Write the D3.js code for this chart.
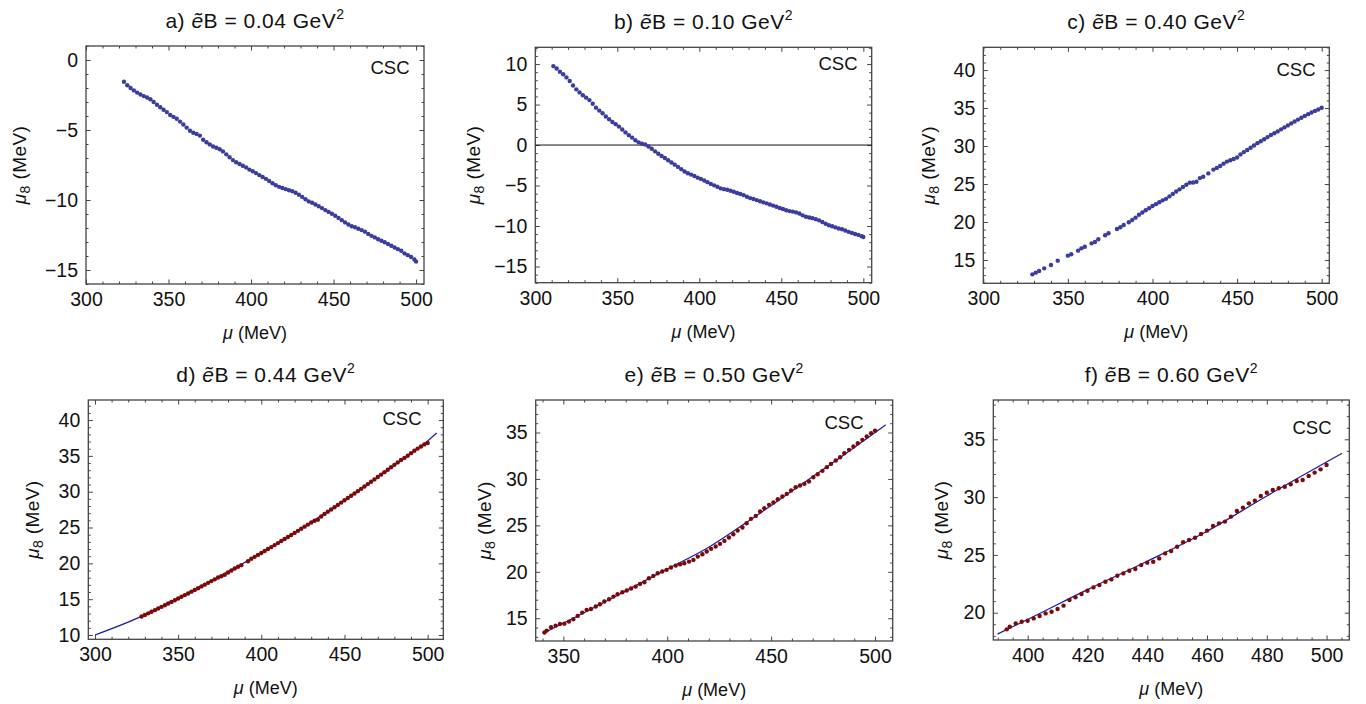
<!DOCTYPE html>
<html>
<head>
<meta charset="utf-8">
<script src="https://cdn.jsdelivr.net/npm/d3@7"></script>
<style>
  body { margin: 0; background: #fff; }
  text { font-family: 'Liberation Sans', Arial, sans-serif; fill: #111; }
</style>
</head>
<body>
<script>
// data: mu (MeV), mu8 (MeV)
const pointsA = [[323,-1.55],[325,-1.80],[327,-2.00],[329,-2.17],[331,-2.33],[333,-2.46],[335,-2.58],[337,-2.68],[339,-2.80],[341,-3.00],
  [343,-3.20],[345,-3.38],[347,-3.55],[349,-3.72],[351,-3.93],[353,-4.06],[355,-4.20],[357,-4.40],[359,-4.61],[361,-4.83],
  [363,-5.05],[365,-5.20],[367,-5.28],[369,-5.40],[371,-5.70],[373,-5.87],[375,-6.03],[377,-6.18],[379,-6.27],[381,-6.37],
  [383,-6.53],[385,-6.74],[387,-6.95],[389,-7.15],[391,-7.30],[393,-7.43],[395,-7.55],[397,-7.67],[399,-7.83],[401,-7.95],
  [403,-8.08],[405,-8.22],[407,-8.36],[409,-8.49],[411,-8.64],[413,-8.80],[415,-8.95],[417,-9.06],[419,-9.14],[421,-9.22],
  [423,-9.30],[425,-9.38],[427,-9.48],[429,-9.62],[431,-9.78],[433,-9.95],[435,-10.10],[437,-10.20],[439,-10.32],[441,-10.45],
  [443,-10.58],[445,-10.72],[447,-10.85],[449,-10.98],[451,-11.12],[453,-11.28],[455,-11.44],[457,-11.60],[459,-11.75],[461,-11.88],
  [463,-11.95],[465,-12.05],[467,-12.15],[469,-12.26],[471,-12.42],[473,-12.56],[475,-12.67],[477,-12.80],[479,-12.91],[481,-13.02],
  [483,-13.14],[485,-13.27],[487,-13.39],[489,-13.51],[491,-13.63],[493,-13.81],[495,-13.94],[497,-14.07],[499,-14.25],[500,-14.40]];

const pointsB = [[311,9.75],[313,9.45],[315,9.05],[317,8.75],[319,8.35],[321,7.90],[323,7.35],[325,6.88],[327,6.50],[329,6.15],
  [331,5.85],[333,5.55],[335,5.10],[337,4.62],[339,4.25],[341,3.92],[343,3.52],[345,3.18],[347,2.85],[349,2.58],
  [351,2.28],[353,1.92],[355,1.56],[357,1.22],[359,0.92],[361,0.60],[363,0.33],[365,0.15],[367,0.06],[369,-0.18],
  [371,-0.45],[373,-0.78],[375,-1.08],[377,-1.35],[379,-1.60],[381,-1.88],[383,-2.15],[385,-2.42],[387,-2.70],[389,-2.98],
  [391,-3.26],[393,-3.48],[395,-3.65],[397,-3.83],[399,-4.03],[401,-4.18],[403,-4.37],[405,-4.58],[407,-4.80],[409,-4.98],
  [411,-5.16],[413,-5.35],[415,-5.45],[417,-5.53],[419,-5.65],[421,-5.77],[423,-5.92],[425,-6.05],[427,-6.18],[429,-6.38],
  [431,-6.55],[433,-6.67],[435,-6.80],[437,-6.95],[439,-7.08],[441,-7.20],[443,-7.35],[445,-7.48],[447,-7.62],[449,-7.78],
  [451,-7.90],[453,-8.05],[455,-8.16],[457,-8.22],[459,-8.32],[461,-8.45],[463,-8.68],[465,-8.85],[467,-8.95],[469,-9.03],
  [471,-9.15],[473,-9.30],[475,-9.50],[477,-9.72],[479,-9.90],[481,-10.03],[483,-10.17],[485,-10.30],[487,-10.40],[489,-10.55],
  [491,-10.72],[493,-10.85],[495,-10.98],[497,-11.10],[499,-11.25],[500,-11.35]];

const pointsC = [[329,13.11],[331,13.33],[333,13.55],[336,13.90],[340,14.34],[344,14.91],[350,15.57],[352,15.75],[356,16.23],[358,16.53],
  [360,16.75],[364,17.19],[366,17.37],[368,17.72],[372,18.25],[374,18.51],[379,19.08],[381,19.30],[383,19.60],[386,19.96],
  [388,20.26],[390,20.57],[392,20.95],[394,21.25],[396,21.55],[398,21.82],[400,22.10],[402,22.35],[404,22.60],[406,22.85],
  [408,23.05],[410,23.38],[412,23.70],[414,24.02],[416,24.30],[418,24.60],[420,24.90],[422,25.18],[424,25.20],[426,25.30],
  [428,25.78],[430,25.95],[433,26.40],[436,26.90],[438,27.12],[440,27.38],[442,27.68],[444,27.95],[446,28.12],[448,28.30],
  [450,28.50],[452,28.90],[454,29.20],[456,29.48],[458,29.78],[460,30.08],[462,30.38],[464,30.64],[466,30.90],[468,31.18],
  [470,31.45],[472,31.68],[474,31.93],[476,32.20],[478,32.46],[480,32.72],[482,32.98],[484,33.24],[486,33.48],[488,33.73],
  [490,33.97],[492,34.20],[494,34.42],[496,34.63],[498,34.82],[500,35.05]];

const pointsD = [[328,12.58],[330,12.80],[332,13.02],[334,13.25],[336,13.47],[338,13.70],[340,13.93],[342,14.15],[344,14.39],[346,14.62],
  [348,14.85],[350,15.09],[352,15.33],[354,15.57],[356,15.80],[358,16.05],[360,16.29],[362,16.53],[364,16.78],[366,17.03],
  [368,17.28],[370,17.52],[372,17.77],[374,18.03],[376,18.20],[378,18.40],[380,18.72],[382,19.00],[384,19.28],[386,19.52],
  [388,19.75],[392,20.30],[394,20.64],[396,20.91],[398,21.18],[400,21.45],[402,21.72],[404,22.00],[406,22.27],[408,22.55],
  [410,22.83],[412,23.11],[414,23.39],[416,23.68],[418,23.96],[420,24.25],[422,24.54],[424,24.83],[426,25.12],[428,25.41],
  [430,25.70],[432,25.95],[434,26.10],[436,26.55],[438,26.90],[440,27.20],[442,27.52],[444,27.84],[446,28.16],[448,28.48],
  [450,28.80],[452,29.12],[454,29.44],[456,29.76],[458,30.08],[460,30.40],[462,30.73],[464,31.06],[466,31.39],[468,31.72],
  [470,32.05],[472,32.39],[474,32.73],[476,33.07],[478,33.41],[480,33.75],[482,34.09],[484,34.43],[486,34.72],[488,35.02],
  [490,35.38],[492,35.72],[494,36.02],[496,36.30],[498,36.60],[500,36.80]];

const pointsE = [[340.9,13.46],[342.0,13.67],[344.1,14.03],[346.3,14.21],[348.4,14.39],[350.5,14.42],[352.7,14.64],[354.8,14.89],[356.9,15.25],[359.1,15.61],
  [361.2,15.90],[363.3,16.00],[365.6,16.26],[367.6,16.51],[369.7,16.80],[372.0,17.05],[374.1,17.33],[376.1,17.58],[378.4,17.80],[380.5,17.98],
  [382.6,18.20],[384.8,18.41],[386.9,18.70],[389.0,18.88],[391.2,19.31],[393.3,19.56],[395.4,19.85],[397.6,20.03],[399.7,20.21],[401.8,20.46],
  [404.1,20.67],[406.2,20.82],[408.2,20.92],[410.5,21.10],[412.6,21.28],[414.7,21.64],[416.9,21.89],[419.0,22.18],[421.1,22.47],[423.3,22.72],
  [425.4,23.01],[427.5,23.33],[429.7,23.69],[431.8,24.05],[433.9,24.44],[436.2,24.77],[438.2,25.23],[440.3,25.70],[442.6,26.02],[444.7,26.49],
  [446.7,26.85],[449.0,27.21],[451.1,27.46],[453.2,27.82],[455.4,28.11],[457.5,28.39],[459.6,28.75],[461.8,29.11],[463.9,29.29],[466.0,29.47],
  [468.2,29.72],[470.3,30.19],[472.4,30.51],[474.7,30.87],[476.8,31.27],[478.8,31.62],[481.1,31.98],[483.2,32.34],[485.2,32.77],[487.5,33.13],
  [489.6,33.49],[491.7,33.85],[493.9,34.21],[496.0,34.57],[498.1,34.93],[500.0,35.20]];

const pointsF = [[393,18.56],[394,18.79],[396,19.08],[398,19.22],[400,19.31],[402,19.51],[404,19.71],[406,19.94],[408,20.09],[410,20.32],
  [412,20.61],[414,21.10],[416,21.33],[418,21.62],[420,21.90],[422,22.19],[424,22.39],[426,22.68],[428,22.88],[430,23.20],
  [432,23.40],[434,23.63],[436,23.78],[438,24.12],[440,24.33],[442,24.41],[444,24.70],[446,25.13],[448,25.34],[450,25.71],
  [452,26.09],[454,26.29],[456,26.49],[458,26.81],[460,27.10],[462,27.50],[464,27.73],[466,27.88],[468,28.31],[470,28.80],
  [472,29.09],[474,29.46],[476,29.69],[478,30.10],[480,30.38],[482,30.61],[484,30.76],[486,30.90],[488,31.11],[490,31.39],
  [492,31.48],[494,31.83],[496,32.12],[498,32.40],[500,32.78]];

// fitted curves (d, e, f)
const fitD = [[300,10.0],[328,12.6],[350,15.15],[400,21.45],[450,28.8],[480,33.7],[500,37.1],[505.4,38.2]];
const fitE = [[340.4,13.38],[360,15.6],[380,17.95],[400,20.3],[420,22.65],[440,25.6],[460,28.7],[480,31.8],[505.1,35.83]];
const fitF = [[389.9,18.15],[400,19.42],[420,22.0],[440,24.45],[460,27.05],[480,30.1],[505.2,33.79]];

const labels = ['a)', 'b)', 'c)', 'd)', 'e)', 'f)'];
const fields = ['0.04', '0.10', '0.40', '0.44', '0.50', '0.60'];

// layout of each panel (pixels)
const panels = [
  {pts: pointsA, fit: null, left: 86, right: 424, top: 46, bottom: 284, xDom: [300, 504.8], yDom: [-16, 1],
   xMajor: 50, xMinor: 10, ylabX: 19, csc: [390, 68], zero: false},
  {pts: pointsB, fit: null, left: 535.3, right: 871.7, top: 47.3, bottom: 282.7, xDom: [300, 505.1], yDom: [-17, 12.07],
   xMajor: 50, xMinor: 10, ylabX: 473, csc: [838, 64], zero: true},
  {pts: pointsC, fit: null, left: 983.3, right: 1329.3, top: 47.3, bottom: 283.3, xDom: [300, 504.5], yDom: [11.93, 43],
   xMajor: 50, xMinor: 10, ylabX: 928, csc: [1296, 70], zero: false},
  {pts: pointsD, fit: fitD, left: 88.3, right: 443.3, top: 400, bottom: 639.3, xDom: [296, 509.4], yDom: [9.4, 42.8],
   xMajor: 50, xMinor: 10, ylabX: 32, csc: [402, 419], zero: false},
  {pts: pointsE, fit: fitE, left: 535.7, right: 892.7, top: 400, bottom: 641, xDom: [336.7, 508.5], yDom: [12.55, 38.5],
   xMajor: 50, xMinor: 10, ylabX: 484, csc: [844, 423], zero: false},
  {pts: pointsF, fit: fitF, left: 993.3, right: 1349.3, top: 400, bottom: 640, xDom: [388.5, 507.6], yDom: [17.64, 38.4],
   xMajor: 20, xMinor: 5, ylabX: 941, csc: [1312, 428], zero: false}
];

const blue = '#3c3c9f', red = '#7a0a0a', navy = '#1a1aa0', frameCol = '#444';

const svg = d3.select('body').append('svg').attr('width', 1366).attr('height', 704);

function ticksBetween(dom, step) {
    const lo = Math.ceil(dom[0] / step - 1e-9) * step;
    return d3.range(lo, dom[1] + 1e-9, step);
}

panels.forEach((p, i) => {
    const x = d3.scaleLinear().domain(p.xDom).range([p.left, p.right]);
    const y = d3.scaleLinear().domain(p.yDom).range([p.bottom, p.top]);
    const g = svg.append('g');

    const xMaj = ticksBetween(p.xDom, p.xMajor);
    const xMin = ticksBetween(p.xDom, p.xMinor).filter(v => Math.abs(v / p.xMajor - Math.round(v / p.xMajor)) > 1e-6);
    const yMaj = ticksBetween(p.yDom, 5);
    const yMin = ticksBetween(p.yDom, 1).filter(v => v % 5 !== 0);

    // axes: major ticks with labels on bottom/left, inward ticks on all sides
    const fmt = d3.format('d');
    const addAxis = (axis, tx, ty, vals, size, labelled) => {
        const a = g.append('g').attr('transform', `translate(${tx},${ty})`)
            .call(axis.tickValues(vals).tickSize(size).tickPadding(labelled ? 8 : 0)
                .tickFormat(labelled ? fmt : () => ''));
        a.select('.domain').remove();
        a.selectAll('line').attr('stroke', frameCol).attr('stroke-width', 1);
        a.selectAll('text').style('font-size', '19.5px').attr('fill', '#111')
            .style('font-family', "'Liberation Sans', Arial, sans-serif");
        return a;
    };
    addAxis(d3.axisBottom(x), 0, p.bottom, xMaj, -4.5, true);
    addAxis(d3.axisBottom(x), 0, p.bottom, xMin, -2.5, false);
    addAxis(d3.axisTop(x), 0, p.top, xMaj, -4.5, false);
    addAxis(d3.axisTop(x), 0, p.top, xMin, -2.5, false);
    const yl = addAxis(d3.axisLeft(y), p.left, 0, yMaj, -4.5, true);
    yl.selectAll('text').attr('x', -8);
    addAxis(d3.axisLeft(y), p.left, 0, yMin, -2.5, false);
    addAxis(d3.axisRight(y), p.right, 0, yMaj, -4.5, false);
    addAxis(d3.axisRight(y), p.right, 0, yMin, -2.5, false);

    // frame
    g.append('rect')
        .attr('x', p.left).attr('y', p.top)
        .attr('width', p.right - p.left).attr('height', p.bottom - p.top)
        .attr('fill', 'none').attr('stroke', frameCol).attr('stroke-width', 1.3);

    if (p.zero) {
        g.append('line')
            .attr('x1', p.left).attr('x2', p.right)
            .attr('y1', y(0)).attr('y2', y(0))
            .attr('stroke', '#111').attr('stroke-width', 1);
    }

    if (p.fit) {
        g.append('path').datum(p.fit)
            .attr('d', d3.line().x(d => x(d[0])).y(d => y(d[1])).curve(d3.curveMonotoneX))
            .attr('fill', 'none').attr('stroke', navy).attr('stroke-width', 1.2);
    }

    g.selectAll('circle.pt').data(p.pts).enter().append('circle')
        .attr('class', 'pt')
        .attr('cx', d => x(d[0])).attr('cy', d => y(d[1]))
        .attr('r', 2.2)
        .attr('fill', p.fit ? red : blue);

    // title
    const cx = (p.left + p.right) / 2;
    const t = g.append('text').attr('x', cx).attr('y', p.top - 18)
        .attr('text-anchor', 'middle').style('font-size', '21px').style('letter-spacing', '0.5px');
    t.append('tspan').text(labels[i] + ' ');
    t.append('tspan').style('font-style', 'italic').text('ẽ');
    t.append('tspan').text('B = ' + fields[i] + ' GeV');
    t.append('tspan').attr('dy', -9).style('font-size', '14px').text('2');

    // CSC label
    g.append('text').attr('x', p.csc[0]).attr('y', p.csc[1]).attr('dy', '0.35em')
        .attr('text-anchor', 'middle').style('font-size', '18.5px').text('CSC');

    // x label
    const xl = g.append('text').attr('x', cx).attr('y', p.bottom + 55)
        .attr('text-anchor', 'middle').style('font-size', '18px');
    xl.append('tspan').style('font-style', 'italic').text('μ');
    xl.append('tspan').text(' (MeV)');

    // y label
    const cy = (p.top + p.bottom) / 2;
    const yt = g.append('text')
        .attr('transform', `translate(${p.ylabX},${cy}) rotate(-90)`)
        .attr('text-anchor', 'middle').attr('dy', '0.35em').style('font-size', '19px')
        .style('letter-spacing', '0.4px');
    yt.append('tspan').style('font-style', 'italic').text('μ');
    yt.append('tspan').attr('dy', 4).style('font-size', '14px').text('8');
    yt.append('tspan').attr('dy', -4).text(' (MeV)');
});
</script>
</body>
</html>
